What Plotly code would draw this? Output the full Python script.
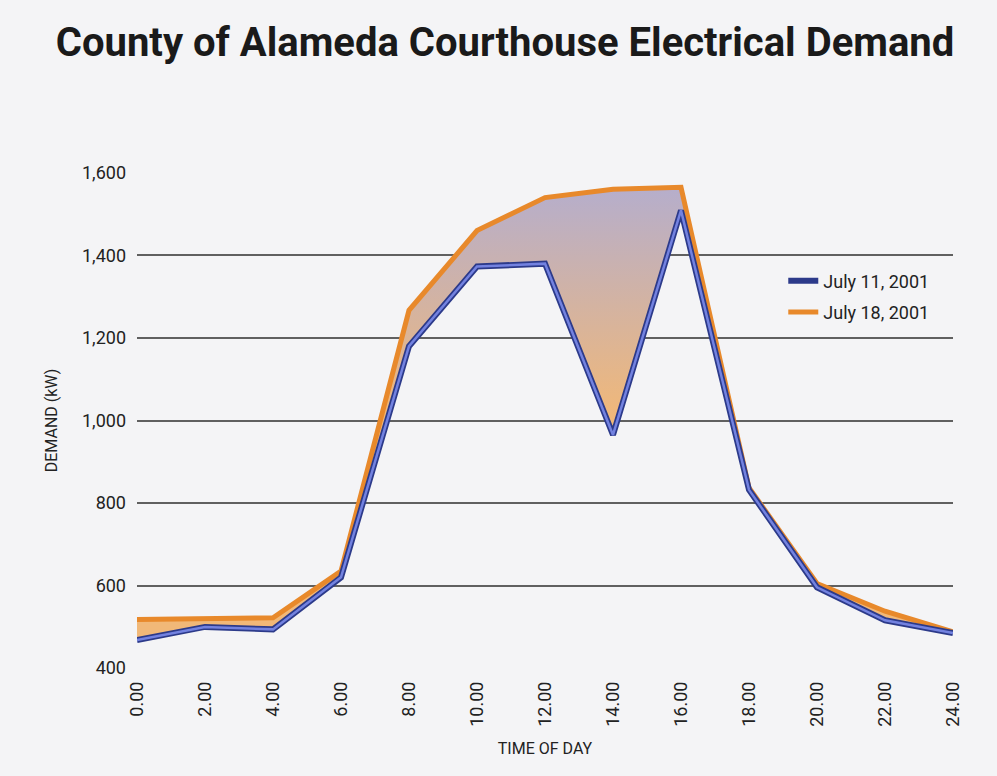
import plotly.graph_objects as go

# Hourly electrical demand (kW) at the courthouse on two July days
hours = [0, 2, 4, 6, 8, 10, 12, 14, 16, 18, 20, 22, 24]
july_11 = [468, 500, 494, 620, 1180, 1373, 1380, 965, 1509, 832, 596, 516, 485]
july_18 = [518, 520, 522, 635, 1267, 1460, 1540, 1560, 1565, 837, 605, 538, 488]
tick_labels = ["0.00", "2.00", "4.00", "6.00", "8.00", "10.00", "12.00",
               "14.00", "16.00", "18.00", "20.00", "22.00", "24.00"]
y_ticks = [400, 600, 800, 1000, 1200, 1400, 1600]

FONT = "Roboto, Liberation Sans, sans-serif"
BG = "#f4f4f6"

fig = go.Figure()

# base for the shaded band between the two days
fig.add_trace(go.Scatter(
    x=hours, y=july_11, mode="lines", line=dict(width=0, color="rgba(0,0,0,0)"),
    showlegend=False, hoverinfo="skip", cliponaxis=False,
))

# band from July 11 up to July 18, purple at the top fading to orange
fig.add_trace(go.Scatter(
    x=hours, y=july_18, mode="lines", line=dict(width=0, color="rgba(0,0,0,0)"),
    fill="tonexty",
    fillgradient=dict(type="vertical", start=1000, stop=1560,
                      colorscale=[[0, "#f1b878"], [1, "#b6aecb"]]),
    showlegend=False, hoverinfo="skip", cliponaxis=False,
))

# July 18 line
fig.add_trace(go.Scatter(
    x=hours, y=july_18, mode="lines", name="July 18, 2001",
    line=dict(color="#e8892b", width=5),
    legendrank=2, legendgroup="b", cliponaxis=False,
))

# July 11 line: dark outline with a lighter blue core
fig.add_trace(go.Scatter(
    x=hours, y=july_11, mode="lines", name="July 11, 2001",
    line=dict(color="#2c3a8a", width=6), legendrank=1, legendgroup="a",
    cliponaxis=False,
))
fig.add_trace(go.Scatter(
    x=hours, y=july_11, mode="lines", line=dict(color="#7382e0", width=2.5),
    showlegend=False, hoverinfo="skip", cliponaxis=False,
))

fig.update_layout(
    width=997, height=776,
    paper_bgcolor=BG, plot_bgcolor=BG,
    margin=dict(l=137, r=44, t=172, b=107),
    font=dict(family=FONT, color="#222222"),
    title=dict(
        text="<b>County of Alameda Courthouse Electrical Demand</b>",
        x=505 / 997, xanchor="center", xref="container",
        y=1 - 42 / 776, yanchor="middle", yref="container",
        font=dict(family=FONT, size=40, color="#1a1a1a"),
    ),
    legend=dict(
        x=0.792, y=0.818, xanchor="left", yanchor="top",
        bgcolor="rgba(0,0,0,0)", borderwidth=0,
        font=dict(size=18, color="#222222"),
        traceorder="grouped", tracegroupgap=5,
    ),
    showlegend=True,
)

fig.update_xaxes(
    range=[0, 24], tickvals=hours, ticktext=tick_labels, tickangle=-90,
    showgrid=False, zeroline=False, showline=False, ticks="",
    ticklabelstandoff=8, tickfont=dict(size=18),
    title=dict(text="TIME OF DAY", font=dict(size=16), standoff=16),
)
fig.update_yaxes(
    range=[398, 1602], tickvals=y_ticks, tickformat=",",
    showgrid=True, gridcolor="#606060", gridwidth=1.5,
    zeroline=False, showline=False, ticks="",
    ticklabelstandoff=10, tickfont=dict(size=18),
    title=dict(text="DEMAND (kW)", font=dict(size=16), standoff=20),
)

fig.write_html("out.html")
